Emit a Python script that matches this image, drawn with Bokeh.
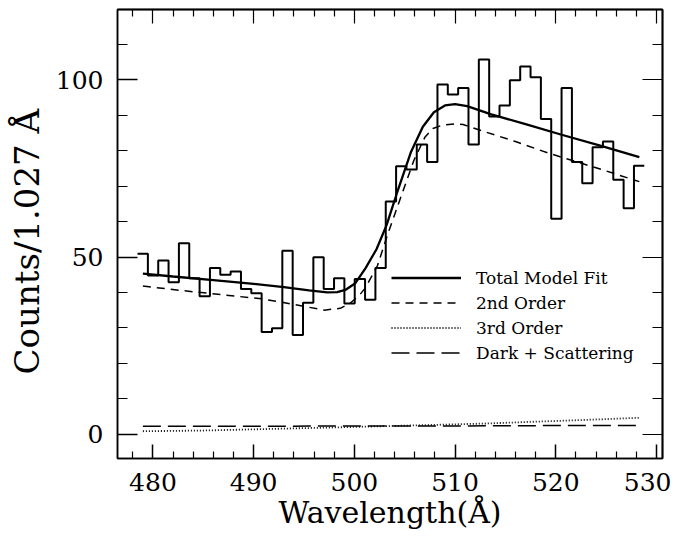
from bokeh.plotting import figure
from bokeh.models import (Range1d, FixedTicker, LinearAxis, Legend, LegendItem, Title)
from bokeh.embed import file_html
from bokeh.resources import INLINE

# ---------------- data ----------------
bin_start = 478.47   # Angstrom, left edge of first bin
bin_width = 1.027    # Angstrom per bin
counts = [50.9, 44.8, 49.0, 42.9, 53.9, 44.0, 38.9, 46.9, 45.0, 45.9,
          41.0, 39.8, 28.8, 29.9, 51.8, 28.0, 37.1, 49.9, 41.0, 44.0,
          36.9, 43.8, 37.9, 46.9, 65.7, 75.6, 74.7, 81.8, 76.8, 98.7,
          95.9, 97.7, 81.8, 105.8, 89.7, 92.8, 99.9, 103.8, 100.8, 89.0,
          60.8, 97.7, 76.8, 70.8, 81.0, 82.6, 71.8, 63.8, 75.8]

total_x = [479.0, 482.0, 486.0, 490.0, 493.0, 495.5, 497.3, 498.3, 499.1, 500.1,
           501.1, 502.2, 503.2, 504.2, 505.6, 506.8, 507.9, 509.0, 510.0, 511.2,
           513.6, 517.0, 520.5, 524.5, 528.3]
total_y = [45.3, 44.5, 43.5, 42.4, 41.5, 40.6, 40.0, 40.1, 40.7, 42.6,
           46.8, 52.2, 59.0, 67.8, 79.5, 86.8, 90.9, 92.8, 93.2, 92.6,
           90.3, 87.5, 84.6, 81.4, 78.2]

second_x = [479.0, 483.0, 487.0, 490.8, 494.0, 497.0, 498.6, 499.6, 500.5, 501.1,
            502.3, 503.3, 504.6, 505.9, 507.0, 507.8, 508.8, 510.0, 510.8, 512.6,
            516.0, 519.2, 524.0, 528.3]
second_y = [41.8, 40.5, 39.3, 38.2, 36.6, 35.0, 35.5, 37.0, 39.2, 41.3,
            47.6, 56.3, 66.8, 77.2, 83.8, 86.3, 87.3, 87.6, 87.4, 85.7,
            82.6, 79.4, 75.2, 71.3]

third_x = [479.0, 485.0, 492.4, 497.0, 502.6, 508.0, 513.3, 518.0, 523.0, 528.3]
third_y = [0.8, 1.0, 1.5, 1.8, 2.2, 2.6, 3.0, 3.5, 4.0, 4.6]

dark_x = [479.0, 490.0, 500.0, 510.0, 520.0, 528.3]
dark_y = [2.2, 2.2, 2.3, 2.3, 2.4, 2.4]

legend_labels = ["Total Model Fit", "2nd Order", "3rd Order", "Dark + Scattering"]

x_major_ticks = [480, 490, 500, 510, 520, 530]
x_minor_ticks = [478, 482, 484, 486, 488, 492, 494, 496, 498, 502, 504, 506, 508,
                 512, 514, 516, 518, 522, 524, 526, 528]
y_major_ticks = [0, 50, 100]
y_minor_ticks = [10, 20, 30, 40, 60, 70, 80, 90, 110]

# ---------------- figure ----------------
p = figure(width=671, height=532, output_backend="svg", toolbar_location=None,
           x_range=Range1d(476.48, 530.6), y_range=Range1d(-6.9, 119.9),
           min_border_left=117, min_border_right=9, min_border_top=9,
           min_border_bottom=74)
p.xgrid.visible = False
p.ygrid.visible = False
p.outline_line_color = "black"
p.outline_line_width = 1.5
p.background_fill_color = "white"
p.border_fill_color = "white"

SERIF = "DejaVu Serif"

# histogram step line
edges = [bin_start + i * bin_width for i in range(len(counts) + 1)]
step_vals = counts + [counts[-1]]
p.step(edges, step_vals, mode="after", line_color="black", line_width=2)

r_total = p.line(total_x, total_y, line_color="black", line_width=2.3)
r_second = p.line(second_x, second_y, line_color="black", line_width=1.5, line_dash="8 6")
r_third = p.line(third_x, third_y, line_color="black", line_width=1.8, line_dash="1 2")
r_dark = p.line(dark_x, dark_y, line_color="black", line_width=1.5, line_dash="18 7")


def style_axis(ax, tin, tmin):
    ax.axis_line_color = "black"
    ax.axis_line_width = 1.5
    ax.major_tick_in = tin
    ax.major_tick_out = 0
    ax.minor_tick_in = tmin
    ax.minor_tick_out = 0
    ax.major_tick_line_width = 1.5
    ax.minor_tick_line_width = 1.2
    ax.major_tick_line_color = "black"
    ax.minor_tick_line_color = "black"


xaxis = p.xaxis[0]
yaxis = p.yaxis[0]
xaxis.ticker = FixedTicker(ticks=x_major_ticks, minor_ticks=x_minor_ticks)
yaxis.ticker = FixedTicker(ticks=y_major_ticks, minor_ticks=y_minor_ticks)
style_axis(xaxis, 14, 7)
style_axis(yaxis, 20, 10)
for ax in (xaxis, yaxis):
    ax.major_label_text_font = SERIF
    ax.major_label_text_font_size = "25px"
    ax.major_label_text_color = "black"
xaxis.axis_label = "Wavelength(Å)"
xaxis.axis_label_text_font = SERIF
xaxis.axis_label_text_font_style = "normal"
xaxis.axis_label_text_color = "black"
xaxis.axis_label_text_font_size = "30px"
xaxis.major_label_standoff = 14
xaxis.axis_label_standoff = 1
yaxis.major_label_standoff = 14

# y title placed with an offset along the axis (as in the reference)
ytitle = Title(text="Counts/1.027 Å", align="left", offset=84,
               vertical_align="middle", standoff=10,
               text_font=SERIF, text_font_size="34px", text_font_style="normal",
               text_color="black")
p.add_layout(ytitle, "left")

# top and right tick marks (no labels): one axis for the long ticks, one for the short
for ticks, tin in ((x_major_ticks, 14), (x_minor_ticks, 7)):
    ax = LinearAxis(ticker=FixedTicker(ticks=[], minor_ticks=ticks))
    style_axis(ax, 0, tin)
    ax.major_label_standoff = 0
    p.add_layout(ax, "above")
for ticks, tin in ((y_major_ticks, 20), (y_minor_ticks, 10)):
    ax = LinearAxis(ticker=FixedTicker(ticks=[], minor_ticks=ticks))
    style_axis(ax, 0, tin)
    ax.major_label_standoff = 0
    p.add_layout(ax, "right")

legend = Legend(items=[LegendItem(label=legend_labels[0], renderers=[r_total]),
                       LegendItem(label=legend_labels[1], renderers=[r_second]),
                       LegendItem(label=legend_labels[2], renderers=[r_third]),
                       LegendItem(label=legend_labels[3], renderers=[r_dark])],
                location=(274, 93), glyph_width=70, glyph_height=25,
                label_height=25, spacing=0, padding=0, margin=0,
                label_standoff=15, label_text_font=SERIF,
                label_text_font_size="17px", label_text_color="black",
                border_line_alpha=0, background_fill_alpha=0)
p.add_layout(legend)

open("out.html", "w").write(file_html(p, INLINE))
